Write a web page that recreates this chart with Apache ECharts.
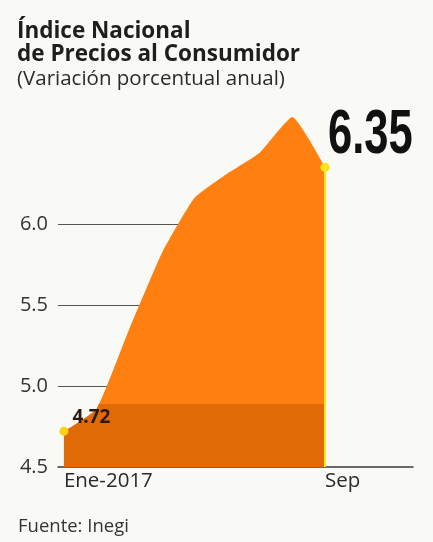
<!DOCTYPE html>
<html>
<head>
<meta charset="utf-8">
<script src="https://cdn.jsdelivr.net/npm/echarts@6/dist/echarts.min.js"></script>
<style>
html,body{margin:0;padding:0;background:#f9f9f5;}
#c{width:433px;height:542px;}
</style>
</head>
<body>
<div id="c"></div>
<script>
const months = ['Ene-2017','Feb','Mar','Abr','May','Jun','Jul','Ago','Sep'];
const inflation = [4.72, 4.86, 5.35, 5.82, 6.16, 6.31, 6.44, 6.66, 6.35];
const yTicks = [4.5, 5.0, 5.5, 6.0];
const xLabelIdx = [0, 8];
const bandTop = 4.89;

const chart = echarts.init(document.getElementById('c'), null, {renderer: 'canvas'});
const seriesData = inflation.map((v, i) => [i, v]);
const last = inflation.length - 1;
const FONT = 'Open Sans';

chart.setOption({
  backgroundColor: '#f9f9f5',
  animation: false,
  title: [
    {text: 'Índice Nacional\nde Precios al Consumidor', left: 17, top: 20.5, padding: 0,
     textStyle: {fontFamily: FONT, fontWeight: 'bold', fontSize: 22.5, lineHeight: 23, color: '#1e1e1e'}},
    {text: '(Variación porcentual anual)', left: 17, top: 69, padding: 0,
     textStyle: {fontFamily: FONT, fontWeight: 'normal', fontSize: 20.5, lineHeight: 21, color: '#2a2a2a'}},
    {text: 'Fuente: Inegi', left: 18, top: 517, padding: 0,
     textStyle: {fontFamily: FONT, fontWeight: 'normal', fontSize: 18.5, lineHeight: 19, color: '#333'}}
  ],
  grid: [
    {left: 58, right: 108, top: 110.6, bottom: 75},
    {left: 58, right: 20, top: 110.6, bottom: 75}
  ],
  xAxis: [
    {type: 'value', gridIndex: 0, min: -0.18, max: 8,
     axisLine: {show: false}, axisTick: {show: false}, splitLine: {show: false},
     axisLabel: {customValues: xLabelIdx, align: 'left', margin: 4, lineHeight: 21,
       formatter: v => months[v], fontFamily: FONT, fontSize: 20.5, color: '#2a2a2a'}},
    {type: 'value', gridIndex: 1, min: 0, max: 1,
     axisLine: {show: true, lineStyle: {color: '#3a3a3a', width: 1.5}},
     axisTick: {show: false}, splitLine: {show: false}, axisLabel: {show: false}}
  ],
  yAxis: [
    {type: 'value', gridIndex: 0, min: 4.5, max: 6.7,
     axisLine: {show: false},
     axisTick: {show: false, customValues: yTicks.slice(1)},
     axisLabel: {customValues: yTicks, margin: 10, lineHeight: 20, padding: [0, 0, 15, 0],
       formatter: v => v.toFixed(1), fontFamily: FONT, fontSize: 20, color: '#333'},
     splitLine: {show: true, lineStyle: {color: '#555', width: 1.2}}},
    {type: 'value', gridIndex: 1, min: 0, max: 1, show: false}
  ],
  visualMap: {
    type: 'piecewise', show: false, dimension: 1, seriesIndex: 0,
    pieces: [
      {gte: 4.5, lt: bandTop, color: '#e26a06'},
      {gte: bandTop, lte: 8, color: '#ff8010'}
    ]
  },
  series: [{
    type: 'line', xAxisIndex: 0, yAxisIndex: 0,
    smooth: 0.15,
    lineStyle: {width: 0},
    areaStyle: {opacity: 1, origin: 'start'},
    symbol: 'circle', symbolSize: 0,
    showSymbol: true,
    data: seriesData.map((d, i) => {
      if (i === 0) return {value: d, symbolSize: 9, itemStyle: {color: '#ffd21a'},
        label: {show: true, position: 'right', offset: [-1, -14], formatter: p => p.value[1].toFixed(2),
          fontFamily: FONT, fontWeight: 'bold', fontSize: 19, color: '#2a1a10'}};
      if (i === last) return {value: d, symbolSize: 9, itemStyle: {color: '#ffe11a'}, label: {show: false}};
      return {value: d, label: {show: false}};
    }),
    markLine: {
      silent: true, symbol: 'none', label: {show: false},
      lineStyle: {color: '#ffe61a', width: 2, type: 'solid'},
      data: [[{coord: [last, 4.5]}, {coord: [last, inflation[last]]}]]
    }
  }]
});

// Big value label for the last point, anchored to the data point via the library's scale
const pt = chart.convertToPixel({gridIndex: 0}, [last, inflation[last]]);
chart.setOption({
  graphic: [{
    type: 'text',
    x: pt[0] + 3, y: pt[1] - 31.5,
    scaleX: 0.69,
    style: {
      text: inflation[last].toFixed(2),
      fontFamily: 'Liberation Sans', fontWeight: 'bold', fontSize: 63,
      fill: '#111', textAlign: 'left', textVerticalAlign: 'middle', verticalAlign: 'middle'
    }
  }]
});
</script>
</body>
</html>
